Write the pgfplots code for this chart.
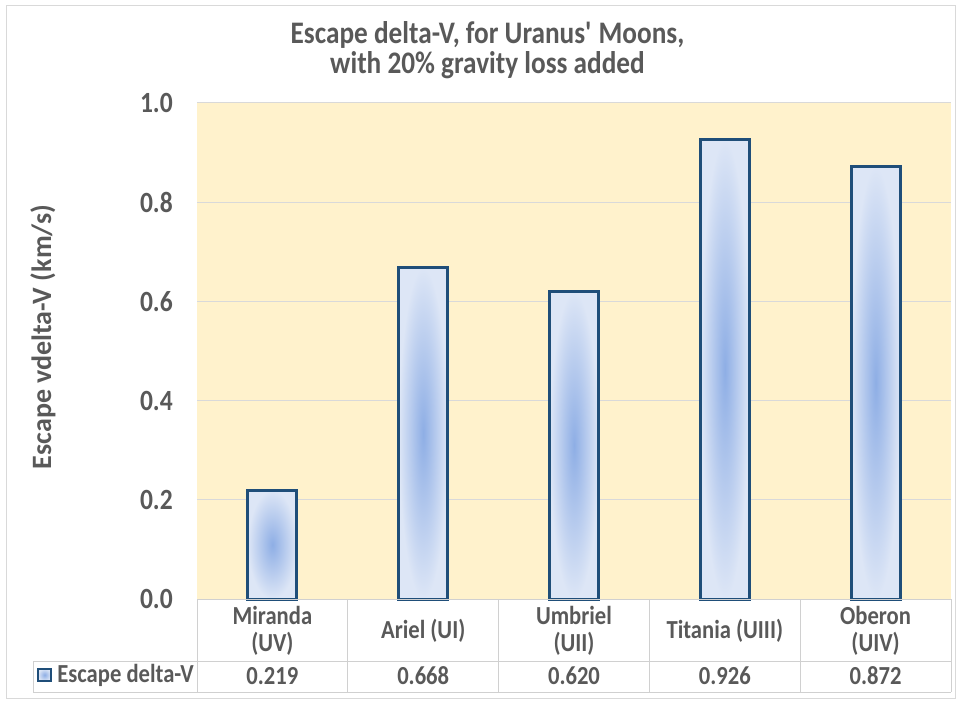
\documentclass[border=0pt]{standalone}
\usepackage{pgfplots}
\pgfplotsset{compat=1.18}
\usepackage{fontspec}
\setmainfont{Carlito}[FakeStretch=0.87]
\newfontfamily\upright{Carlito}

\definecolor{txt}{HTML}{595959}
\definecolor{plotbg}{HTML}{FFF2CC}
\definecolor{gridc}{HTML}{D9D9D9}
\definecolor{tabline}{HTML}{D0D0D0}
\definecolor{barline}{HTML}{1F4E79}
\definecolor{barin}{HTML}{8EAEE5}
\definecolor{barout}{HTML}{DDE6F6}

\begin{document}
\begin{tikzpicture}
% canvas 956x700 px, 1 px = 0.75pt
\path[use as bounding box, fill=white] (0,0) rectangle (717pt,525pt);
\draw[gray!30, line width=0.75pt] (5pt,1.5pt) rectangle (716.5pt,520.5pt);

% title
\node[anchor=base, font=\fontsize{23.5}{23.5}\selectfont\bfseries, text=txt]
  at (365.6pt,492pt) {Escape delta-V, for Uranus\textquotesingle{} Moons,};
\node[anchor=base, font=\fontsize{23.5}{23.5}\selectfont\bfseries, text=txt]
  at (365.6pt,469.5pt) {with 20\% gravity loss added};

\begin{axis}[
  at={(147.75pt,75.75pt)}, anchor=south west,
  scale only axis, width=565.5pt, height=372pt,
  xmin=-0.5, xmax=4.5, ymin=0, ymax=1,
  ybar, bar width=36.75pt, bar shift=0pt,
  moonbar/.style={draw=barline, line width=2.25pt, inner color=barin, outer color=barout},
  axis background/.style={fill=plotbg},
  axis line style={draw=none},
  major tick length=0pt,
  ymajorgrids, grid style={gridc, line width=0.75pt},
  ytick={0,0.2,0.4,0.6,0.8,1.0},
  yticklabel style={font=\fontsize{22}{24}\selectfont\bfseries, text=txt,
    anchor=east, inner sep=0pt, xshift=-18pt,
    /pgf/number format/fixed, /pgf/number format/fixed zerofill,
    /pgf/number format/precision=1, /pgf/number format/assume math mode=true},
  xtick={0,1,2,3,4},
  xticklabels={{Miranda\\(UV)}, {Ariel (UI)}, {Umbriel\\(UII)}, {Titania (UIII)}, {Oberon\\(UIV)}},
  xticklabel style={font=\fontsize{19.5}{20.25}\selectfont\bfseries, text=txt,
    align=center, anchor=center, yshift=-24pt},
  ylabel={Escape vdelta-V (km/s)},
  ylabel style={font=\upright\fontsize{21}{24}\selectfont\bfseries, text=txt,
    at={(axis description cs:-0.2042,0.528)}, anchor=center},
  clip=false,
]

% bars, one plot each so that every bar gets its own centre shading
\addplot[moonbar] coordinates {(0,0.219)};
\addplot[moonbar] coordinates {(1,0.668)};
\addplot[moonbar] coordinates {(2,0.620)};
\addplot[moonbar] coordinates {(3,0.926)};
\addplot[moonbar] coordinates {(4,0.872)};

% data table grid
\draw[tabline, line width=0.75pt] (axis cs:-0.5,0) -- (axis cs:4.5,0);
\draw[tabline, line width=0.75pt] (axis cs:-1.5875,-0.125) -- (axis cs:4.5,-0.125);
\draw[tabline, line width=0.75pt] (axis cs:-1.5875,-0.1875) -- (axis cs:4.5,-0.1875);
\draw[tabline, line width=0.75pt] (axis cs:-1.5875,-0.125) -- (axis cs:-1.5875,-0.1875);
\pgfplotsinvokeforeach{-0.5,0.5,1.5,2.5,3.5,4.5}{
  \draw[tabline, line width=0.75pt] (axis cs:#1,0) -- (axis cs:#1,-0.1875);
}

% legend key and row title
\node[draw=barline, line width=1.5pt, inner color=barin, outer color=barout,
  minimum size=9.5pt, inner sep=0pt] at (axis cs:-1.511,-0.153) {};
\node[anchor=west, inner sep=0pt, font=\fontsize{19.5}{20}\selectfont\bfseries, text=txt]
  at (axis cs:-1.428,-0.155) {Escape delta-V};

% values row
\node[font=\fontsize{19.5}{20}\selectfont\bfseries, text=txt] at (axis cs:0,-0.155) {0.219};
\node[font=\fontsize{19.5}{20}\selectfont\bfseries, text=txt] at (axis cs:1,-0.155) {0.668};
\node[font=\fontsize{19.5}{20}\selectfont\bfseries, text=txt] at (axis cs:2,-0.155) {0.620};
\node[font=\fontsize{19.5}{20}\selectfont\bfseries, text=txt] at (axis cs:3,-0.155) {0.926};
\node[font=\fontsize{19.5}{20}\selectfont\bfseries, text=txt] at (axis cs:4,-0.155) {0.872};

\end{axis}
\end{tikzpicture}
\end{document}
